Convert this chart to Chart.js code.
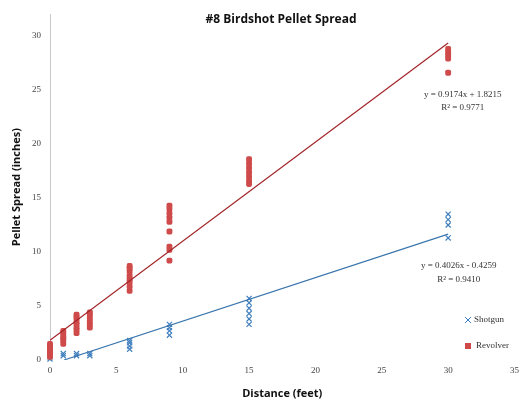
<!DOCTYPE html>
<html><head><meta charset="utf-8">
<script src="https://cdn.jsdelivr.net/npm/chart.js@4"></script>
<style>html,body{margin:0;padding:0;background:#fff}#wrap{width:524px;height:409px}</style>
</head><body><div id="wrap"><canvas id="c" width="524" height="409"></canvas></div>
<script>
const title = "#8 Birdshot Pellet Spread";
const xTitle = "Distance (feet)";
const yTitle = "Pellet Spread (inches)";
const xTicks = [0,5,10,15,20,25,30,35];
const yTicks = [0,5,10,15,20,25,30];

// Revolver measurements: distance (ft) and spread (in)
const revolverX = [0,0,0,0,0,0,0, 1,1,1,1,1,1, 2,2,2,2,2,2,2,2, 3,3,3,3,3,3, 6,6,6,6,6,6,6,6, 9,9,9,9,9,9,9,9,9, 15,15,15,15,15,15,15, 30,30,30,30,30];
const revolverY = [0.3,0.5,0.7,0.9,1.1,1.3,1.5, 1.5,1.8,2.0,2.2,2.5,2.7, 2.5,2.8,3.0,3.3,3.5,3.8,4.0,4.2, 3.0,3.3,3.6,3.9,4.2,4.4, 6.4,6.8,7.2,7.5,7.8,8.2,8.5,8.7, 14.3,14.0,13.6,13.2,12.8,11.9,10.5,10.2,9.2, 18.6,18.2,17.8,17.4,17.0,16.6,16.3, 28.8,28.5,28.2,27.9,26.6];
// Shotgun measurements
const shotgunX = [0,0, 1,1, 2,2, 3,3, 6,6,6,6, 9,9,9,9, 15,15,15,15,15,15, 30,30,30,30];
const shotgunY = [0.1,0.3, 0.4,0.6, 0.4,0.6, 0.4,0.6, 1.0,1.3,1.6,1.8, 2.3,2.7,3.0,3.3, 5.7,5.3,4.8,4.3,3.8,3.3, 13.5,13.0,12.5,11.3];

// Trendlines shown on the chart
const revolverFit = {slope:0.9174, intercept:1.8215, from:0, to:30};
const shotgunFit  = {slope:0.4026, intercept:-0.4259, from:1.06, to:30};
const revolverEq = ["y = 0.9174x + 1.8215", "R\u00b2 = 0.9771"];
const shotgunEq  = ["y = 0.4026x - 0.4259", "R\u00b2 = 0.9410"];
const legendLabels = ["Shotgun", "Revolver"];

const RED = "#cf4a4a", BLUE = "#3f7fbf", RED_LINE = "#a3262a", BLUE_LINE = "#3a76ad";
const pts = (xs, ys) => xs.map((x,i)=>({x:x, y:ys[i]}));
const fitPts = f => [{x:f.from, y:f.slope*f.from+f.intercept},{x:f.to, y:f.slope*f.to+f.intercept}];

const overlay = {
  id:'overlay',
  afterDraw(chart){
    const ctx = chart.ctx, xs = chart.scales.x, ys = chart.scales.y;
    ctx.save();
    ctx.fillStyle = '#111';
    ctx.font = 'bold 12px "Open Sans", sans-serif';
    ctx.textAlign = 'center'; ctx.textBaseline = 'middle';
    ctx.fillText(title, 281, 20);
    ctx.font = '9px "Liberation Serif", serif';
    ctx.fillStyle = '#333';
    const rx = xs.getPixelForValue(31.1);
    ctx.fillText(revolverEq[0], rx, ys.getPixelForValue(24.6));
    ctx.fillText(revolverEq[1], rx, ys.getPixelForValue(23.4));
    ctx.fillText(shotgunEq[0], rx-4, ys.getPixelForValue(8.7));
    ctx.fillText(shotgunEq[1], rx-4, ys.getPixelForValue(7.4));
    // legend
    ctx.textAlign = 'left';
    const lx = 468, ly1 = 320, ly2 = 346;
    ctx.strokeStyle = BLUE; ctx.lineWidth = 1;
    ctx.beginPath(); ctx.moveTo(lx-3,ly1-3); ctx.lineTo(lx+3,ly1+3); ctx.moveTo(lx+3,ly1-3); ctx.lineTo(lx-3,ly1+3); ctx.stroke();
    ctx.fillStyle = '#333'; ctx.fillText(legendLabels[0], lx+6, ly1);
    ctx.fillStyle = RED; ctx.fillRect(lx-3, ly2-3, 6, 6);
    ctx.fillStyle = '#333'; ctx.fillText(legendLabels[1], lx+8, ly2);
    ctx.restore();
  }
};

new Chart(document.getElementById('c'), {
  type:'scatter',
  data:{datasets:[
    {label:legendLabels[1], data:pts(revolverX, revolverY), pointStyle:'rectRounded', pointRadius:3.4, backgroundColor:RED, borderColor:RED, borderWidth:0, order:2, clip:false},
    {label:legendLabels[0], data:pts(shotgunX, shotgunY), pointStyle:'crossRot', pointRadius:3.6, borderColor:BLUE, backgroundColor:BLUE, borderWidth:1.2, order:3, clip:false},
    {type:'line', label:'rfit', data:fitPts(revolverFit), borderColor:RED_LINE, borderWidth:1.2, pointRadius:0, fill:false, order:1},
    {type:'line', label:'sfit', data:fitPts(shotgunFit), borderColor:BLUE_LINE, borderWidth:1.2, pointRadius:0, fill:false, order:1}
  ]},
  options:{
    responsive:false, animation:false, maintainAspectRatio:false,
    layout:{padding:{left:0,right:5,top:11,bottom:0}},
    plugins:{legend:{display:false}, title:{display:false}, tooltip:{enabled:false}},
    scales:{
      x:{type:'linear', min:0, max:35,
        afterBuildTicks(s){ s.ticks = xTicks.map(v=>({value:v})); },
        afterFit(s){ s.height = 49; },
        grid:{display:false, drawTicks:false}, border:{display:false},
        ticks:{padding:5, color:'#444', font:{family:'"Liberation Serif", serif', size:9}},
        title:{display:true, text:xTitle, color:'#111', padding:{top:0,bottom:9}, font:{family:'"Open Sans", sans-serif', size:11, weight:'bold'}}
      },
      y:{type:'linear', min:0, max:32,
        afterBuildTicks(s){ s.ticks = yTicks.map(v=>({value:v})); },
        afterFit(s){ s.width = 50; },
        grid:{display:false, drawTicks:false}, border:{display:true, color:'#c8c8c8', width:1},
        ticks:{padding:9, color:'#444', font:{family:'"Liberation Serif", serif', size:9}},
        title:{display:true, text:yTitle, color:'#111', padding:{top:10,bottom:0}, font:{family:'"Open Sans", sans-serif', size:11, weight:'bold'}}
      }
    }
  },
  plugins:[overlay]
});
</script>
</body></html>
